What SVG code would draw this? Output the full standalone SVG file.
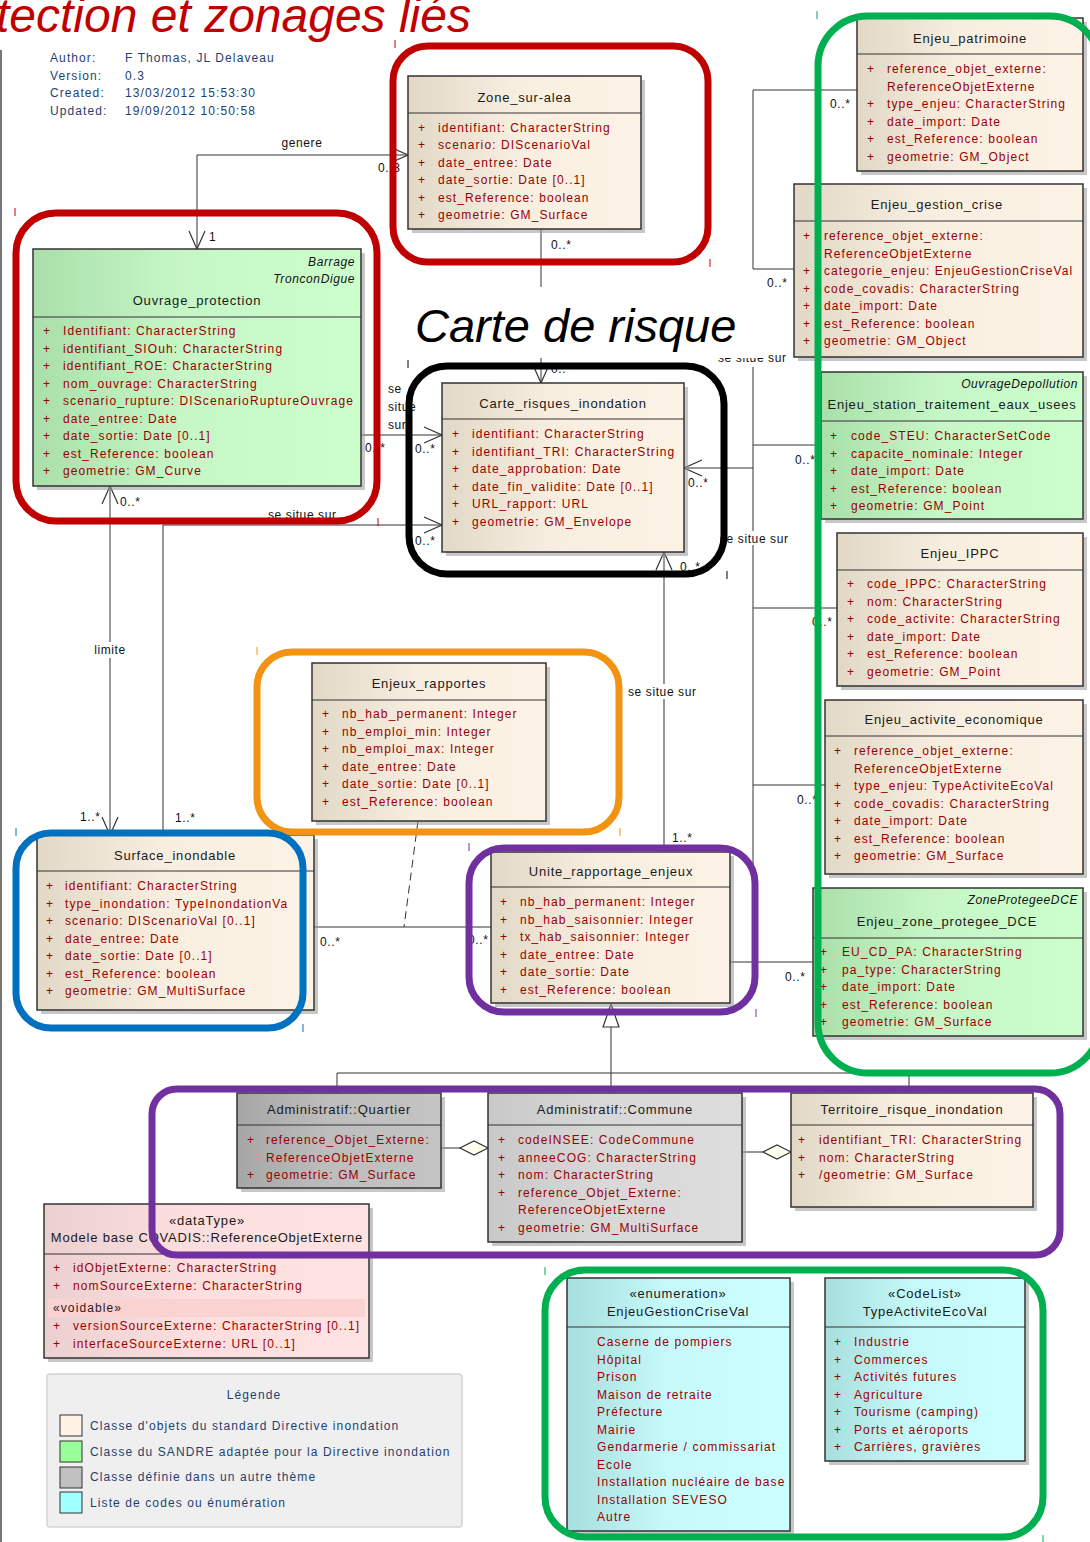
<svg xmlns="http://www.w3.org/2000/svg" width="1090" height="1542" viewBox="0 0 1090 1542">
<style>
text{font-family:"Liberation Sans",Arial,sans-serif}
.t{font-size:13px;letter-spacing:0.8px;fill:#1a1a1a;text-anchor:middle}
.a{font-size:12px;letter-spacing:1.1px;fill:#990000}
.it{font-size:12px;font-style:italic;letter-spacing:0.6px;fill:#111;text-anchor:end}
.lb{font-size:12px;letter-spacing:0.6px;fill:#111}
.hd{font-size:12px;letter-spacing:1.1px;fill:#1f3f6f}
.box{stroke:#333;stroke-width:1.5}
.sh{fill:#999;opacity:.55}
.hl{stroke:#333;stroke-width:1}
.ln{stroke:#333;stroke-width:1;fill:none}
.hi{fill:none;stroke-width:7}
.mk{stroke-width:1}
</style>
<defs>
<linearGradient id="gC" x1="0" x2="1" y1="0" y2="0"><stop offset="0" stop-color="#e2d8c6"/><stop offset="0.45" stop-color="#f8eee0"/><stop offset="1" stop-color="#fcf3e6"/></linearGradient>
<linearGradient id="gG" x1="0" x2="1" y1="0" y2="0"><stop offset="0" stop-color="#a9dfa9"/><stop offset="0.45" stop-color="#c6f6c6"/><stop offset="1" stop-color="#ccffcc"/></linearGradient>
<linearGradient id="gQ" x1="0" x2="1" y1="0" y2="0"><stop offset="0" stop-color="#a6a6a6"/><stop offset="0.45" stop-color="#bdbdbd"/><stop offset="1" stop-color="#c4c4c4"/></linearGradient>
<linearGradient id="gK" x1="0" x2="1" y1="0" y2="0"><stop offset="0" stop-color="#c8c8c8"/><stop offset="0.45" stop-color="#d8d8d8"/><stop offset="1" stop-color="#dddddd"/></linearGradient>
<linearGradient id="gP" x1="0" x2="1" y1="0" y2="0"><stop offset="0" stop-color="#ecd0d0"/><stop offset="0.45" stop-color="#fcdede"/><stop offset="1" stop-color="#ffe3e3"/></linearGradient>
<linearGradient id="gY" x1="0" x2="1" y1="0" y2="0"><stop offset="0" stop-color="#a9dede"/><stop offset="0.45" stop-color="#c6fafa"/><stop offset="1" stop-color="#ccffff"/></linearGradient>
<marker id="ar" viewBox="0 0 20 18" refX="19" refY="9" markerWidth="20" markerHeight="18" markerUnits="userSpaceOnUse" orient="auto-start-reverse"><path d="M1,1 L19,9 L1,17" fill="none" stroke="#333" stroke-width="1.2"/></marker>
</defs>
<rect width="1090" height="1542" fill="#fff"/>
<line x1="1" y1="50" x2="1" y2="1542" stroke="#777" stroke-width="2"/>

<text x="-4" y="32" font-size="48" font-style="italic" fill="#c00000">tection et zonages liés</text>

<g id="header_info">
<text class="hd" x="50" y="62">Author:</text><text class="hd" x="125" y="62">F Thomas, JL Delaveau</text>
<text class="hd" x="50" y="80">Version:</text><text class="hd" x="125" y="80">0.3</text>
<text class="hd" x="50" y="97">Created:</text><text class="hd" x="125" y="97">13/03/2012 15:53:30</text>
<text class="hd" x="50" y="114.5">Updated:</text><text class="hd" x="125" y="114.5">19/09/2012 10:50:58</text>
</g>

<g id="connectors">
<path class="ln" d="M197,249 V155 H408" marker-start="url(#ar)" marker-end="url(#ar)"/>
<text class="lb" x="302" y="147" text-anchor="middle">genere</text>
<text class="lb" x="209" y="241">1</text>
<text class="lb" x="378" y="172">0..3</text>

<path class="ln" d="M541,229 V383" marker-end="url(#ar)"/>
<text class="lb" x="551" y="249">0..*</text>
<text class="lb" x="551" y="373">0..*</text>

<path class="ln" d="M361,435 H442" marker-end="url(#ar)"/>
<text class="lb" x="388" y="393">se</text>
<text class="lb" x="388" y="411">situe</text>
<text class="lb" x="388" y="429">sur</text>
<text class="lb" x="365" y="452">0..*</text>
<text class="lb" x="415" y="453">0..*</text>

<path class="ln" d="M163,835 V525 H442" marker-end="url(#ar)"/>
<text class="lb" x="268" y="519">se situe sur</text>
<text class="lb" x="415" y="545">0..*</text>
<text class="lb" x="175" y="822">1..*</text>

<path class="ln" d="M110,835 V486" marker-start="url(#ar)" marker-end="url(#ar)"/>
<rect x="90" y="642" width="40" height="16" fill="#fff"/>
<text class="lb" x="110" y="654" text-anchor="middle">limite</text>
<text class="lb" x="120" y="506">0..*</text>
<text class="lb" x="80" y="821">1..*</text>

<path class="ln" d="M314,927 H491"/>
<path class="ln" d="M418,821 L404,927" stroke-dasharray="8,5"/>
<text class="lb" x="320" y="946">0..*</text>
<text class="lb" x="468" y="944">0..*</text>

<path class="ln" d="M664,852 V552" marker-end="url(#ar)"/>
<rect x="627" y="684" width="75" height="15" fill="#fff"/>
<text class="lb" x="628" y="696">se situe sur</text>
<text class="lb" x="672" y="842">1..*</text>
<text class="lb" x="680" y="571">0..*</text>

<path class="ln" d="M857,90 H753 V269 H794"/>
<text class="lb" x="830" y="108">0..*</text>
<text class="lb" x="767" y="287">0..*</text>
<text class="lb" x="718" y="362">se situe sur</text>

<path class="ln" d="M753,367 V962"/>
<path class="ln" d="M753,468 H684" marker-end="url(#ar)"/>
<path class="ln" d="M753,445 H821"/>
<path class="ln" d="M753,608 H837"/>
<path class="ln" d="M753,785 H825"/>
<path class="ln" d="M730,962 H813"/>
<rect x="722" y="531" width="70" height="14" fill="#fff"/>
<text class="lb" x="720" y="543">se situe sur</text>
<text class="lb" x="688" y="487">0..*</text>
<text class="lb" x="795" y="464">0..*</text>
<text class="lb" x="812" y="626">0..*</text>
<text class="lb" x="797" y="804">0..*</text>
<text class="lb" x="785" y="981">0..*</text>

<path class="ln" d="M611,1027 V1073 M337,1073 H909 M337,1073 V1093 M611,1073 V1093 M909,1073 V1093"/>
<polygon points="611,1004 603,1027 619,1027" fill="#fff" stroke="#333" stroke-width="1.2"/>

<path class="ln" d="M441,1148 H460"/>
<polygon points="488,1148 474,1141 460,1148 474,1155" fill="#fffff0" stroke="#333" stroke-width="1.2"/>
<path class="ln" d="M742,1152 H763"/>
<polygon points="791,1152 777,1145 763,1152 777,1159" fill="#fffff0" stroke="#333" stroke-width="1.2"/>
</g>

<rect x="410" y="287" width="356" height="71" fill="#fff"/>
<text x="415" y="342" font-size="47" font-style="italic" fill="#000">Carte de risque</text>

<g id="zone_sur_alea">
<rect class="sh" x="412" y="80" width="233" height="153"/>
<rect class="box" x="408" y="76" width="233" height="153" fill="url(#gC)"/>
<line class="hl" x1="408" y1="113" x2="641" y2="113"/>
<text class="t" x="524.5" y="101.5">Zone_sur-alea</text>
<text class="a" y="131.5"><tspan x="418">+</tspan><tspan x="438">identifiant: CharacterString</tspan></text>
<text class="a" y="149"><tspan x="418">+</tspan><tspan x="438">scenario: DIScenarioVal</tspan></text>
<text class="a" y="166.5"><tspan x="418">+</tspan><tspan x="438">date_entree: Date</tspan></text>
<text class="a" y="184"><tspan x="418">+</tspan><tspan x="438">date_sortie: Date [0..1]</tspan></text>
<text class="a" y="201.5"><tspan x="418">+</tspan><tspan x="438">est_Reference: boolean</tspan></text>
<text class="a" y="219"><tspan x="418">+</tspan><tspan x="438">geometrie: GM_Surface</tspan></text>
</g>

<g id="ouvrage_protection">
<rect class="sh" x="37" y="253" width="328" height="237"/>
<rect class="box" x="33" y="249" width="328" height="237" fill="url(#gG)"/>
<line class="hl" x1="33" y1="317" x2="361" y2="317"/>
<text class="it" x="355" y="266">Barrage</text>
<text class="it" x="355" y="283">TronconDigue</text>
<text class="t" x="197" y="305">Ouvrage_protection</text>
<text class="a" y="335"><tspan x="43">+</tspan><tspan x="63">Identifiant: CharacterString</tspan></text>
<text class="a" y="352.5"><tspan x="43">+</tspan><tspan x="63">identifiant_SIOuh: CharacterString</tspan></text>
<text class="a" y="370"><tspan x="43">+</tspan><tspan x="63">identifiant_ROE: CharacterString</tspan></text>
<text class="a" y="387.5"><tspan x="43">+</tspan><tspan x="63">nom_ouvrage: CharacterString</tspan></text>
<text class="a" y="405"><tspan x="43">+</tspan><tspan x="63">scenario_rupture: DIScenarioRuptureOuvrage</tspan></text>
<text class="a" y="422.5"><tspan x="43">+</tspan><tspan x="63">date_entree: Date</tspan></text>
<text class="a" y="440"><tspan x="43">+</tspan><tspan x="63">date_sortie: Date [0..1]</tspan></text>
<text class="a" y="457.5"><tspan x="43">+</tspan><tspan x="63">est_Reference: boolean</tspan></text>
<text class="a" y="475"><tspan x="43">+</tspan><tspan x="63">geometrie: GM_Curve</tspan></text>
</g>

<g id="carte_risques_inondation">
<rect class="sh" x="446" y="387" width="242" height="169"/>
<rect class="box" x="442" y="383" width="242" height="169" fill="url(#gC)"/>
<line class="hl" x1="442" y1="419" x2="684" y2="419"/>
<text class="t" x="563" y="408">Carte_risques_inondation</text>
<text class="a" y="438"><tspan x="452">+</tspan><tspan x="472">identifiant: CharacterString</tspan></text>
<text class="a" y="455.5"><tspan x="452">+</tspan><tspan x="472">identifiant_TRI: CharacterString</tspan></text>
<text class="a" y="473"><tspan x="452">+</tspan><tspan x="472">date_approbation: Date</tspan></text>
<text class="a" y="490.5"><tspan x="452">+</tspan><tspan x="472">date_fin_validite: Date [0..1]</tspan></text>
<text class="a" y="508"><tspan x="452">+</tspan><tspan x="472">URL_rapport: URL</tspan></text>
<text class="a" y="525.5"><tspan x="452">+</tspan><tspan x="472">geometrie: GM_Envelope</tspan></text>
</g>

<g id="surface_inondable">
<rect class="sh" x="41" y="839" width="277" height="175"/>
<rect class="box" x="37" y="835" width="277" height="175" fill="url(#gC)"/>
<line class="hl" x1="37" y1="871" x2="314" y2="871"/>
<text class="t" x="175" y="860">Surface_inondable</text>
<text class="a" y="890"><tspan x="46">+</tspan><tspan x="65">identifiant: CharacterString</tspan></text>
<text class="a" y="907.5"><tspan x="46">+</tspan><tspan x="65">type_inondation: TypeInondationVa</tspan></text>
<text class="a" y="925"><tspan x="46">+</tspan><tspan x="65">scenario: DIScenarioVal [0..1]</tspan></text>
<text class="a" y="942.5"><tspan x="46">+</tspan><tspan x="65">date_entree: Date</tspan></text>
<text class="a" y="960"><tspan x="46">+</tspan><tspan x="65">date_sortie: Date [0..1]</tspan></text>
<text class="a" y="977.5"><tspan x="46">+</tspan><tspan x="65">est_Reference: boolean</tspan></text>
<text class="a" y="995"><tspan x="46">+</tspan><tspan x="65">geometrie: GM_MultiSurface</tspan></text>
</g>

<g id="enjeux_rapportes">
<rect class="sh" x="316" y="667" width="234" height="158"/>
<rect class="box" x="312" y="663" width="234" height="158" fill="url(#gC)"/>
<line class="hl" x1="312" y1="700" x2="546" y2="700"/>
<text class="t" x="429" y="688">Enjeux_rapportes</text>
<text class="a" y="718"><tspan x="322">+</tspan><tspan x="342">nb_hab_permanent: Integer</tspan></text>
<text class="a" y="735.5"><tspan x="322">+</tspan><tspan x="342">nb_emploi_min: Integer</tspan></text>
<text class="a" y="753"><tspan x="322">+</tspan><tspan x="342">nb_emploi_max: Integer</tspan></text>
<text class="a" y="770.5"><tspan x="322">+</tspan><tspan x="342">date_entree: Date</tspan></text>
<text class="a" y="788"><tspan x="322">+</tspan><tspan x="342">date_sortie: Date [0..1]</tspan></text>
<text class="a" y="805.5"><tspan x="322">+</tspan><tspan x="342">est_Reference: boolean</tspan></text>
</g>

<g id="unite_rapportage_enjeux">
<rect class="sh" x="495" y="856" width="239" height="151"/>
<rect class="box" x="491" y="852" width="239" height="151" fill="url(#gC)"/>
<line class="hl" x1="491" y1="887" x2="730" y2="887"/>
<text class="t" x="611" y="876">Unite_rapportage_enjeux</text>
<text class="a" y="906"><tspan x="500">+</tspan><tspan x="520">nb_hab_permanent: Integer</tspan></text>
<text class="a" y="923.5"><tspan x="500">+</tspan><tspan x="520">nb_hab_saisonnier: Integer</tspan></text>
<text class="a" y="941"><tspan x="500">+</tspan><tspan x="520">tx_hab_saisonnier: Integer</tspan></text>
<text class="a" y="958.5"><tspan x="500">+</tspan><tspan x="520">date_entree: Date</tspan></text>
<text class="a" y="976"><tspan x="500">+</tspan><tspan x="520">date_sortie: Date</tspan></text>
<text class="a" y="993.5"><tspan x="500">+</tspan><tspan x="520">est_Reference: boolean</tspan></text>
</g>

<g id="enjeu_patrimoine">
<rect class="sh" x="861" y="22" width="226" height="153"/>
<rect class="box" x="857" y="18" width="226" height="153" fill="url(#gC)"/>
<line class="hl" x1="857" y1="54" x2="1083" y2="54"/>
<text class="t" x="970" y="43">Enjeu_patrimoine</text>
<text class="a" y="73"><tspan x="867">+</tspan><tspan x="887">reference_objet_externe:</tspan></text>
<text class="a" x="887" y="90.5">ReferenceObjetExterne</text>
<text class="a" y="108"><tspan x="867">+</tspan><tspan x="887">type_enjeu: CharacterString</tspan></text>
<text class="a" y="125.5"><tspan x="867">+</tspan><tspan x="887">date_import: Date</tspan></text>
<text class="a" y="143"><tspan x="867">+</tspan><tspan x="887">est_Reference: boolean</tspan></text>
<text class="a" y="160.5"><tspan x="867">+</tspan><tspan x="887">geometrie: GM_Object</tspan></text>
</g>

<g id="enjeu_gestion_crise">
<rect class="sh" x="798" y="188" width="289" height="173"/>
<rect class="box" x="794" y="184" width="289" height="173" fill="url(#gC)"/>
<line class="hl" x1="794" y1="221" x2="1083" y2="221"/>
<text class="t" x="937" y="209">Enjeu_gestion_crise</text>
<text class="a" y="240"><tspan x="803">+</tspan><tspan x="824">reference_objet_externe:</tspan></text>
<text class="a" x="824" y="257.5">ReferenceObjetExterne</text>
<text class="a" y="275"><tspan x="803">+</tspan><tspan x="824">categorie_enjeu: EnjeuGestionCriseVal</tspan></text>
<text class="a" y="292.5"><tspan x="803">+</tspan><tspan x="824">code_covadis: CharacterString</tspan></text>
<text class="a" y="310"><tspan x="803">+</tspan><tspan x="824">date_import: Date</tspan></text>
<text class="a" y="327.5"><tspan x="803">+</tspan><tspan x="824">est_Reference: boolean</tspan></text>
<text class="a" y="345"><tspan x="803">+</tspan><tspan x="824">geometrie: GM_Object</tspan></text>
</g>

<g id="enjeu_station_traitement_eaux_usees">
<rect class="sh" x="825" y="376" width="262" height="147"/>
<rect class="box" x="821" y="372" width="262" height="147" fill="url(#gG)"/>
<line class="hl" x1="821" y1="421" x2="1083" y2="421"/>
<text class="it" x="1078" y="388">OuvrageDepollution</text>
<text class="t" x="952" y="409">Enjeu_station_traitement_eaux_usees</text>
<text class="a" y="440"><tspan x="830">+</tspan><tspan x="851">code_STEU: CharacterSetCode</tspan></text>
<text class="a" y="457.5"><tspan x="830">+</tspan><tspan x="851">capacite_nominale: Integer</tspan></text>
<text class="a" y="475"><tspan x="830">+</tspan><tspan x="851">date_import: Date</tspan></text>
<text class="a" y="492.5"><tspan x="830">+</tspan><tspan x="851">est_Reference: boolean</tspan></text>
<text class="a" y="510"><tspan x="830">+</tspan><tspan x="851">geometrie: GM_Point</tspan></text>
</g>

<g id="enjeu_ippc">
<rect class="sh" x="841" y="537" width="246" height="153"/>
<rect class="box" x="837" y="533" width="246" height="153" fill="url(#gC)"/>
<line class="hl" x1="837" y1="570" x2="1083" y2="570"/>
<text class="t" x="960" y="558">Enjeu_IPPC</text>
<text class="a" y="588"><tspan x="847">+</tspan><tspan x="867">code_IPPC: CharacterString</tspan></text>
<text class="a" y="605.5"><tspan x="847">+</tspan><tspan x="867">nom: CharacterString</tspan></text>
<text class="a" y="623"><tspan x="847">+</tspan><tspan x="867">code_activite: CharacterString</tspan></text>
<text class="a" y="640.5"><tspan x="847">+</tspan><tspan x="867">date_import: Date</tspan></text>
<text class="a" y="658"><tspan x="847">+</tspan><tspan x="867">est_Reference: boolean</tspan></text>
<text class="a" y="675.5"><tspan x="847">+</tspan><tspan x="867">geometrie: GM_Point</tspan></text>
</g>

<g id="enjeu_activite_economique">
<rect class="sh" x="829" y="704" width="258" height="174"/>
<rect class="box" x="825" y="700" width="258" height="174" fill="url(#gC)"/>
<line class="hl" x1="825" y1="736" x2="1083" y2="736"/>
<text class="t" x="954" y="724">Enjeu_activite_economique</text>
<text class="a" y="755"><tspan x="834">+</tspan><tspan x="854">reference_objet_externe:</tspan></text>
<text class="a" x="854" y="772.5">ReferenceObjetExterne</text>
<text class="a" y="790"><tspan x="834">+</tspan><tspan x="854">type_enjeu: TypeActiviteEcoVal</tspan></text>
<text class="a" y="807.5"><tspan x="834">+</tspan><tspan x="854">code_covadis: CharacterString</tspan></text>
<text class="a" y="825"><tspan x="834">+</tspan><tspan x="854">date_import: Date</tspan></text>
<text class="a" y="842.5"><tspan x="834">+</tspan><tspan x="854">est_Reference: boolean</tspan></text>
<text class="a" y="860"><tspan x="834">+</tspan><tspan x="854">geometrie: GM_Surface</tspan></text>
</g>

<g id="enjeu_zone_protegee_dce">
<rect class="sh" x="817" y="892" width="270" height="148"/>
<rect class="box" x="813" y="888" width="270" height="148" fill="url(#gG)"/>
<line class="hl" x1="813" y1="938" x2="1083" y2="938"/>
<text class="it" x="1078" y="904">ZoneProtegeeDCE</text>
<text class="t" x="947" y="926">Enjeu_zone_protegee_DCE</text>
<text class="a" y="956"><tspan x="820">+</tspan><tspan x="842">EU_CD_PA: CharacterString</tspan></text>
<text class="a" y="973.5"><tspan x="820">+</tspan><tspan x="842">pa_type: CharacterString</tspan></text>
<text class="a" y="991"><tspan x="820">+</tspan><tspan x="842">date_import: Date</tspan></text>
<text class="a" y="1008.5"><tspan x="820">+</tspan><tspan x="842">est_Reference: boolean</tspan></text>
<text class="a" y="1026"><tspan x="820">+</tspan><tspan x="842">geometrie: GM_Surface</tspan></text>
</g>

<g id="administratif_quartier">
<rect class="sh" x="241" y="1097" width="204" height="95"/>
<rect class="box" x="237" y="1093" width="204" height="95" fill="url(#gQ)"/>
<line class="hl" x1="237" y1="1125" x2="441" y2="1125"/>
<text class="t" x="339" y="1114">Administratif::Quartier</text>
<text class="a" y="1144"><tspan x="247">+</tspan><tspan x="266">reference_Objet_Externe:</tspan></text>
<text class="a" x="266" y="1161.5">ReferenceObjetExterne</text>
<text class="a" y="1179"><tspan x="247">+</tspan><tspan x="266">geometrie: GM_Surface</tspan></text>
</g>

<g id="administratif_commune">
<rect class="sh" x="492" y="1097" width="254" height="149"/>
<rect class="box" x="488" y="1093" width="254" height="149" fill="url(#gK)"/>
<line class="hl" x1="488" y1="1125" x2="742" y2="1125"/>
<text class="t" x="615" y="1114">Administratif::Commune</text>
<text class="a" y="1144"><tspan x="498">+</tspan><tspan x="518">codeINSEE: CodeCommune</tspan></text>
<text class="a" y="1161.5"><tspan x="498">+</tspan><tspan x="518">anneeCOG: CharacterString</tspan></text>
<text class="a" y="1179"><tspan x="498">+</tspan><tspan x="518">nom: CharacterString</tspan></text>
<text class="a" y="1196.5"><tspan x="498">+</tspan><tspan x="518">reference_Objet_Externe:</tspan></text>
<text class="a" x="518" y="1214">ReferenceObjetExterne</text>
<text class="a" y="1231.5"><tspan x="498">+</tspan><tspan x="518">geometrie: GM_MultiSurface</tspan></text>
</g>

<g id="territoire_risque_inondation">
<rect class="sh" x="795" y="1097" width="242" height="114"/>
<rect class="box" x="791" y="1093" width="242" height="114" fill="url(#gC)"/>
<line class="hl" x1="791" y1="1125" x2="1033" y2="1125"/>
<text class="t" x="912" y="1114">Territoire_risque_inondation</text>
<text class="a" y="1144"><tspan x="798">+</tspan><tspan x="819">identifiant_TRI: CharacterString</tspan></text>
<text class="a" y="1161.5"><tspan x="798">+</tspan><tspan x="819">nom: CharacterString</tspan></text>
<text class="a" y="1179"><tspan x="798">+</tspan><tspan x="819">/geometrie: GM_Surface</tspan></text>
</g>

<g id="reference_objet_externe">
<rect class="sh" x="48" y="1208" width="325" height="154"/>
<rect class="box" x="44" y="1204" width="325" height="154" fill="url(#gP)"/>
<line class="hl" x1="44" y1="1254" x2="369" y2="1254"/>
<text class="t" x="207" y="1225">«dataType»</text>
<text class="t" x="207" y="1242">Modele base COVADIS::ReferenceObjetExterne</text>
<text class="a" y="1272"><tspan x="53">+</tspan><tspan x="73">idObjetExterne: CharacterString</tspan></text>
<text class="a" y="1289.5"><tspan x="53">+</tspan><tspan x="73">nomSourceExterne: CharacterString</tspan></text>
<rect x="48" y="1299" width="317" height="18" fill="#fbd2d2"/>
<text x="53" y="1312" font-size="12" letter-spacing="1.1" fill="#2a1a1a">«voidable»</text>
<text class="a" y="1330"><tspan x="53">+</tspan><tspan x="73">versionSourceExterne: CharacterString [0..1]</tspan></text>
<text class="a" y="1347.5"><tspan x="53">+</tspan><tspan x="73">interfaceSourceExterne: URL [0..1]</tspan></text>
</g>

<g id="enjeu_gestion_crise_val">
<rect class="sh" x="571" y="1282" width="223" height="253"/>
<rect class="box" x="567" y="1278" width="223" height="253" fill="url(#gY)"/>
<line class="hl" x1="567" y1="1327" x2="790" y2="1327"/>
<text class="t" x="678" y="1298">«enumeration»</text>
<text class="t" x="678" y="1316">EnjeuGestionCriseVal</text>
<text class="a" x="597" y="1346">Caserne de pompiers</text>
<text class="a" x="597" y="1363.5">Hôpital</text>
<text class="a" x="597" y="1381">Prison</text>
<text class="a" x="597" y="1398.5">Maison de retraite</text>
<text class="a" x="597" y="1416">Préfecture</text>
<text class="a" x="597" y="1433.5">Mairie</text>
<text class="a" x="597" y="1451">Gendarmerie / commissariat</text>
<text class="a" x="597" y="1468.5">Ecole</text>
<text class="a" x="597" y="1486">Installation nucléaire de base</text>
<text class="a" x="597" y="1503.5">Installation SEVESO</text>
<text class="a" x="597" y="1521">Autre</text>
</g>

<g id="type_activite_eco_val">
<rect class="sh" x="829" y="1282" width="200" height="183"/>
<rect class="box" x="825" y="1278" width="200" height="183" fill="url(#gY)"/>
<line class="hl" x1="825" y1="1327" x2="1025" y2="1327"/>
<text class="t" x="925" y="1298">«CodeList»</text>
<text class="t" x="925" y="1316">TypeActiviteEcoVal</text>
<text class="a" y="1346"><tspan x="834">+</tspan><tspan x="854">Industrie</tspan></text>
<text class="a" y="1363.5"><tspan x="834">+</tspan><tspan x="854">Commerces</tspan></text>
<text class="a" y="1381"><tspan x="834">+</tspan><tspan x="854">Activités futures</tspan></text>
<text class="a" y="1398.5"><tspan x="834">+</tspan><tspan x="854">Agriculture</tspan></text>
<text class="a" y="1416"><tspan x="834">+</tspan><tspan x="854">Tourisme (camping)</tspan></text>
<text class="a" y="1433.5"><tspan x="834">+</tspan><tspan x="854">Ports et aéroports</tspan></text>
<text class="a" y="1451"><tspan x="834">+</tspan><tspan x="854">Carrières, gravières</tspan></text>
</g>

<g id="legende">
<rect x="47" y="1374" width="415" height="153" rx="3" fill="#efefef" stroke="#d4d4d4" stroke-width="1.5"/>
<text class="hd" x="254" y="1399" text-anchor="middle">Légende</text>
<rect x="60" y="1415" width="22" height="21" fill="#fdf2e4" stroke="#333"/>
<text class="hd" x="90" y="1430">Classe d'objets du standard Directive inondation</text>
<rect x="60" y="1441" width="22" height="21" fill="#99ff99" stroke="#333"/>
<text class="hd" x="90" y="1455.5">Classe du SANDRE adaptée pour la Directive inondation</text>
<rect x="60" y="1467" width="22" height="21" fill="#c0c0c0" stroke="#333"/>
<text class="hd" x="90" y="1481">Classe définie dans un autre thème</text>
<rect x="60" y="1492" width="22" height="21" fill="#a0ffff" stroke="#333"/>
<text class="hd" x="90" y="1507">Liste de codes ou énumération</text>
</g>

<g id="highlights">
<rect class="hi" x="393" y="46" width="315" height="216" rx="35" stroke="#c00000"/>
<rect class="hi" x="16" y="213" width="361" height="308" rx="40" stroke="#c00000"/>
<rect class="hi" x="409" y="366" width="315" height="208" rx="38" stroke="#000" stroke-width="8"/>
<rect class="hi" x="818" y="16" width="282" height="1057" rx="50" stroke="#00b050"/>
<rect class="hi" x="257" y="652" width="362" height="180" rx="35" stroke="#f39313"/>
<rect class="hi" x="16" y="833" width="287" height="195" rx="35" stroke="#0070c0"/>
<rect class="hi" x="469" y="848" width="286" height="164" rx="35" stroke="#7030a0"/>
<rect class="hi" x="152" y="1089" width="908" height="166" rx="25" stroke="#7030a0"/>
<rect class="hi" x="545" y="1270" width="498" height="267" rx="40" stroke="#00b050"/>
</g>

<g id="marks" class="mk">
<line x1="395" y1="40" x2="395" y2="48" stroke="#c00000"/>
<line x1="710" y1="259" x2="710" y2="267" stroke="#c00000"/>
<line x1="15" y1="208" x2="15" y2="216" stroke="#c00000"/>
<line x1="378" y1="518" x2="378" y2="526" stroke="#c00000"/>
<line x1="408" y1="360" x2="408" y2="368" stroke="#000"/>
<line x1="727" y1="571" x2="727" y2="579" stroke="#000"/>
<line x1="817" y1="11" x2="817" y2="19" stroke="#00b050"/>
<line x1="257" y1="647" x2="257" y2="655" stroke="#f39313"/>
<line x1="620" y1="828" x2="620" y2="836" stroke="#f39313"/>
<line x1="16" y1="828" x2="16" y2="836" stroke="#0070c0"/>
<line x1="303" y1="1024" x2="303" y2="1032" stroke="#0070c0"/>
<line x1="469" y1="843" x2="469" y2="851" stroke="#7030a0"/>
<line x1="756" y1="1009" x2="756" y2="1017" stroke="#7030a0"/>
<line x1="545" y1="1267" x2="545" y2="1275" stroke="#00b050"/>
<line x1="1043" y1="1535" x2="1043" y2="1542" stroke="#00b050"/>
</g>
</svg>
